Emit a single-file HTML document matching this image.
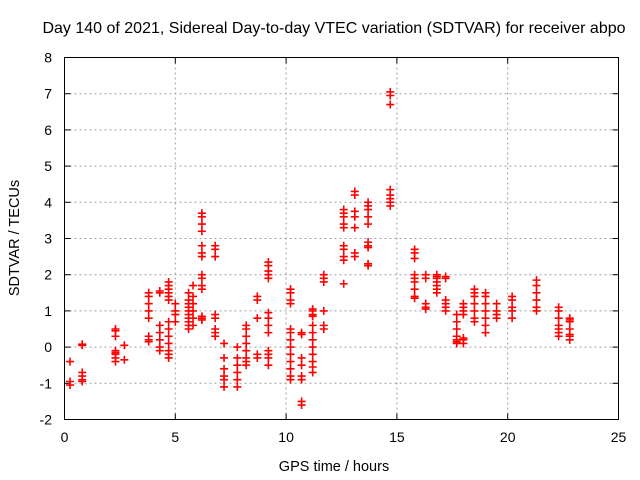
<!DOCTYPE html>
<html><head><meta charset="utf-8"><style>
body{margin:0;background:#fff;}
svg{display:block;font-family:"Liberation Sans",sans-serif;}
</style></head><body>
<svg id="chart" width="640" height="480" xmlns="http://www.w3.org/2000/svg">
<rect x="0" y="0" width="640" height="480" fill="#fff"/>
<text x="334" y="33" font-size="16" text-anchor="middle">Day 140 of 2021, Sidereal Day-to-day VTEC variation (SDTVAR) for receiver abpo</text>
<g id="grid"></g>
<g id="ticks"></g>
<g id="marks"></g>
<rect x="64.5" y="57.5" width="554" height="362" fill="none" stroke="#000" stroke-width="1"/>
<text x="334" y="471" font-size="14.5" text-anchor="middle">GPS time / hours</text>
<text transform="translate(19,238) rotate(-90)" font-size="14.5" text-anchor="middle">SDTVAR / TECUs</text>
</svg>
<script>
const xTicks=[0,5,10,15,20,25];
const yTicks=[-2,-1,0,1,2,3,4,5,6,7,8];
const groupTimes=[0.25,0.8,2.3,2.7,3.8,4.3,4.7,5.0,5.6,5.8,6.2,6.8,7.2,7.8,8.2,8.7,9.2,10.2,10.7,11.2,11.7,12.6,13.1,13.7,14.7,15.8,16.3,16.8,17.2,17.7,18.0,18.5,19.0,19.5,20.2,21.3,22.3,22.8];
const groupValues=[
[-0.4,-0.95,-1.05],
[0.05,0.08,-0.7,-0.8,-0.9,-0.95],
[0.5,0.45,0.3,-0.1,-0.2,-0.3,-0.4,-0.15],
[0.05,-0.35],
[1.5,1.4,1.2,1.0,0.8,0.3,0.2,0.15],
[1.55,1.5,0.6,0.4,0.2,0.0,-0.1],
[1.8,1.7,1.6,1.5,1.4,1.3,0.7,0.5,0.3,0.1,-0.1,-0.2,-0.3],
[1.2,1.0,0.9,0.7],
[1.5,1.3,1.2,1.1,1.0,0.9,0.8,0.7,0.6,0.5],
[1.7,1.4,1.2,1.0,0.8,0.6],
[3.7,3.6,3.4,3.2,2.8,2.6,2.5,2.0,1.9,1.7,1.6,0.85,0.8,0.75],
[2.8,2.7,2.5,0.9,0.8,0.5,0.4,0.3],
[-0.3,-0.6,-0.8,-0.9,-1.1,0.1],
[0,-0.3,-0.5,-0.7,-0.9,-1.1],
[0.6,0.5,0.3,0.1,-0.1,-0.3,-0.4,-0.5],
[1.4,1.3,0.8,-0.2,-0.3],
[2.35,2.25,2.1,2.0,1.9,0.95,0.8,0.6,0.4,-0.1,-0.2,-0.3,-0.5],
[1.6,1.5,1.3,1.2,0.5,0.4,0.2,0.0,-0.2,-0.4,-0.6,-0.8,-0.9],
[0.4,0.35,-0.3,-0.5,-0.8,-0.9,-1.5,-1.6],
[1.05,1.0,0.9,0.85,0.6,0.4,0.2,0.0,-0.2,-0.4,-0.55,-0.7],
[2.0,1.9,1.8,1.0,0.6,0.5],
[3.8,3.7,3.6,3.4,3.3,2.8,2.7,2.5,2.4,1.75],
[4.3,4.2,3.75,3.6,3.3,2.6,2.5],
[4.0,3.9,3.8,3.6,3.4,2.9,2.8,2.75,2.3,2.25],
[7.05,6.95,6.7,4.35,4.2,4.1,4.0,3.9],
[2.7,2.6,2.45,2.0,1.9,1.8,1.6,1.4,1.35],
[2.0,1.9,1.2,1.1,1.05],
[2.0,1.95,1.9,1.8,1.7,1.6,1.5],
[1.95,1.9,1.3,1.2,1.1,1.0],
[0.9,0.7,0.5,0.3,0.2,0.15,0.1],
[1.2,1.1,1.0,0.9,0.25,0.2,0.1],
[1.6,1.5,1.4,1.2,1.0,0.8,0.7],
[1.5,1.4,1.2,1.0,0.8,0.6,0.4],
[1.2,1.0,0.9,0.8],
[1.4,1.3,1.1,1.0,0.8],
[1.85,1.7,1.5,1.3,1.1,1.0],
[1.1,1.0,0.8,0.6,0.5,0.4,0.3],
[0.8,0.75,0.7,0.5,0.35,0.3,0.2]
];
const NS="http://www.w3.org/2000/svg";
const X0=64.5,X1=618.5,Y0=419.5,Y1=57.5;
function xs(t){return X0+(t-0)/(25-0)*(X1-X0);}
function ys(v){return Y0-(v-(-2))/(8-(-2))*(Y0-Y1);}
const grid=document.getElementById('grid'),ticks=document.getElementById('ticks'),marks=document.getElementById('marks');
function mk(tag,attrs,parent){const e=document.createElementNS(NS,tag);for(const k in attrs)e.setAttribute(k,attrs[k]);parent.appendChild(e);return e;}
xTicks.forEach(t=>{
  const x=xs(t);
  if(t>0&&t<25){const g=mk('line',{x1:x,x2:x,y1:Y1,y2:Y0,stroke:'#a0a0a0','stroke-dasharray':'2,3'},grid);
  
  }
  mk('line',{x1:x,x2:x,y1:Y0,y2:Y0-6,stroke:'#000'},ticks);
  mk('line',{x1:x,x2:x,y1:Y1,y2:Y1+6,stroke:'#000'},ticks);
  const l=mk('text',{x:x,y:442,'font-size':'14','text-anchor':'middle'},ticks);
  l.textContent=t;
  
  
});
yTicks.forEach(v=>{
  const y=ys(v);
  if(v>-2&&v<8){const g=mk('line',{x1:X0,x2:X1,y1:y,y2:y,stroke:'#a0a0a0','stroke-dasharray':'2,3'},grid);
  
  }
  mk('line',{x1:X0,x2:X0+6,y1:y,y2:y,stroke:'#000'},ticks);
  mk('line',{x1:X1,x2:X1-6,y1:y,y2:y,stroke:'#000'},ticks);
  const l=mk('text',{x:52,y:y+5,'font-size':'14','text-anchor':'end'},ticks);
  l.textContent=v;
  
  
});
groupTimes.forEach((t,i)=>{
  groupValues[i].forEach(v=>{
    const x=xs(t),y=ys(v);
    const p=mk('path',{d:`M${x-4},${y}H${x+4}M${x},${y-4}V${y+4}`,stroke:'#ff0000','stroke-width':'1.6',fill:'none'},marks);
    
    
  });
});
</script>
</body></html>
